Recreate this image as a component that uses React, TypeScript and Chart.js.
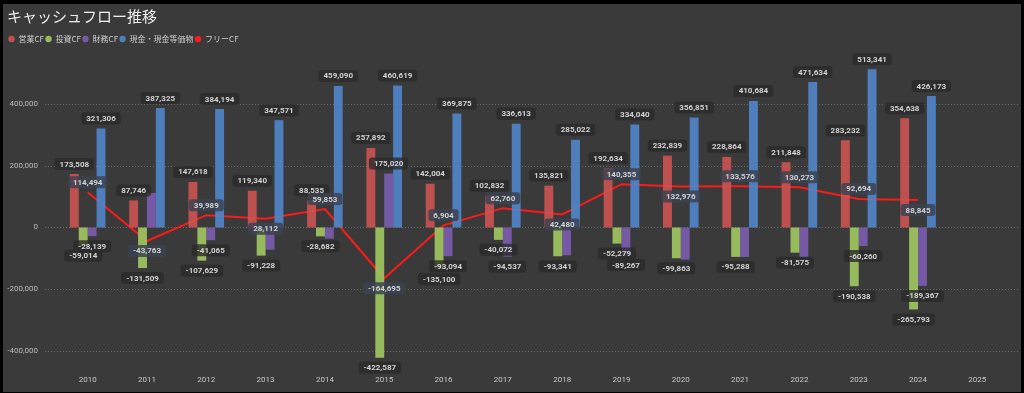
import React, { useEffect, useRef } from 'react';
import { Chart, registerables } from 'chart.js';

Chart.register(...registerables);

const years = ['2010', '2011', '2012', '2013', '2014', '2015', '2016', '2017', '2018', '2019', '2020', '2021', '2022', '2023', '2024', '2025'];
const operatingCF = [173508, 87746, 147618, 119340, 88535, 257892, 142004, 102832, 135821, 192634, 232839, 228864, 211848, 283232, 354638, null];
const investingCF = [-59014, -131509, -107629, -91228, -28682, -422587, -135100, -40072, -93341, -52279, -99863, -95288, -81575, -190538, -265793, null];
const financingCF = [-28139, 112000, -41065, -72000, -36000, 175020, -93094, -94537, -90000, -89267, -104000, -95500, -95500, -60260, -189367, null];
const cashEquivalents = [321306, 387325, 384194, 347571, 459090, 460619, 369875, 336613, 285022, 334040, 356851, 410684, 471634, 513341, 426173, null];
const freeCF = [114494, -43763, 39989, 28112, 59853, -164695, 6904, 62760, 42480, 140355, 132976, 133576, 130273, 92694, 88845, null];
const yTicks = [-400000, -200000, 0, 200000, 400000];
const financingLabelShown = [true, false, true, false, false, true, true, true, false, true, false, false, false, true, true, false];
const freeLabelBelow = [false, true, false, true, false, true, false, false, true, false, true, false, false, false, true, false];

const Y_MIN = -446000;
const Y_MAX = 566000;

const fmt = (v: number) => v.toLocaleString('en-US');

const gridPlugin = {
  id: 'dottedGrid',
  beforeDatasetsDraw(chart: any) {
    const { ctx, chartArea, scales } = chart;
    const y = scales.y;
    ctx.save();
    ctx.strokeStyle = 'rgba(255,255,255,0.25)';
    ctx.lineWidth = 1;
    ctx.setLineDash([1, 2]);
    yTicks.forEach((v) => {
      const py = Math.round(y.getPixelForValue(v)) + 0.5;
      ctx.beginPath();
      ctx.moveTo(chartArea.left - 13, py);
      ctx.lineTo(chartArea.right + 11, py);
      ctx.stroke();
    });
    ctx.restore();
  },
};

const labelPlugin = {
  id: 'valueLabels',
  afterDatasetsDraw(chart: any) {
    const ctx = chart.ctx;
    ctx.save();
    ctx.font = 'bold 8px Roboto, "DejaVu Sans", sans-serif';
    ctx.textAlign = 'center';
    ctx.textBaseline = 'middle';
    [0, 1, 2, 3, 4].forEach((di) => {
      const ds = chart.data.datasets[di];
      const meta = chart.getDatasetMeta(di);
      if (!meta || meta.hidden) return;
      meta.data.forEach((el: any, i: number) => {
        const v = ds.data[i];
        if (v == null) return;
        if (di === 2 && !financingLabelShown[i]) return;
        const isLine = meta.type === 'line';
        const below = isLine ? freeLabelBelow[i] : v < 0;
        const cy = below ? el.y + 10 : el.y - 10;
        const text = fmt(v);
        const w = ctx.measureText(text).width + 10;
        const h = 12;
        ctx.fillStyle = isLine ? 'rgba(60,67,80,0.85)' : 'rgba(42,42,42,0.8)';
        ctx.beginPath();
        ctx.roundRect(el.x - w / 2, cy - h / 2, w, h, 3);
        ctx.fill();
        ctx.fillStyle = '#d2d2d2';
        ctx.fillText(text, el.x, cy + 0.5);
      });
    });
    ctx.restore();
  },
};

export default function App() {
  const canvasRef = useRef<HTMLCanvasElement | null>(null);

  useEffect(() => {
    document.body.style.margin = '0';
    const canvas = canvasRef.current;
    if (!canvas) return;
    const tickFont = { family: 'Roboto, "DejaVu Sans", sans-serif', size: 8 };
    const jpFont = '"Noto Sans CJK JP", "Noto Sans", sans-serif';
    const chart = new Chart(canvas, {
      type: 'bar',
      data: {
        labels: years,
        datasets: [
          { label: '営業CF', data: operatingCF, backgroundColor: 'rgba(205,84,82,0.9)', borderWidth: 0, order: 0 },
          { label: '投資CF', data: investingCF, backgroundColor: 'rgba(160,198,96,0.92)', borderWidth: 0, order: 0 },
          { label: '財務CF', data: financingCF, backgroundColor: 'rgba(124,92,174,0.92)', borderWidth: 0, order: 0 },
          { label: '現金・現金等価物', data: cashEquivalents, backgroundColor: 'rgba(80,134,200,0.92)', borderWidth: 0, order: 0 },
          {
            type: 'line',
            label: 'フリーCF',
            data: freeCF,
            borderColor: '#ff1a1a',
            backgroundColor: '#ff1a1a',
            borderWidth: 2,
            pointRadius: 0,
            pointHoverRadius: 0,
            tension: 0,
            fill: false,
            order: 1,
          } as any,
        ],
      },
      options: {
        animation: false,
        responsive: false,
        devicePixelRatio: 1,
        layout: { padding: { left: 4, right: 14, top: 0, bottom: 0 } },
        datasets: { bar: { categoryPercentage: 0.6, barPercentage: 1.0 } },
        plugins: {
          title: {
            display: true,
            text: 'キャッシュフロー推移',
            align: 'start',
            color: '#eeeeee',
            font: { family: jpFont, size: 15, weight: 'normal' },
            padding: { top: 3, bottom: 8.5 },
          },
          legend: {
            display: true,
            position: 'top',
            align: 'start',
            labels: {
              usePointStyle: true,
              pointStyle: 'circle',
              boxWidth: 6,
              boxHeight: 4.5,
              padding: 1.5,
              color: '#cccccc',
              font: { family: jpFont, size: 8 },
              generateLabels: (c: any) =>
                Chart.defaults.plugins.legend.labels.generateLabels(c).map((l: any) => ({
                  ...l,
                  lineWidth: 0,
                  strokeStyle: 'rgba(0,0,0,0)',
                })),
            },
          },
          tooltip: { enabled: false },
        },
        scales: {
          x: {
            grid: { display: false, drawTicks: false },
            border: { display: false },
            ticks: { color: '#c8c8c8', font: tickFont, padding: 10, maxRotation: 0, autoSkip: false },
            afterFit: (s: any) => {
              s.height = 27;
            },
          },
          y: {
            min: Y_MIN,
            max: Y_MAX,
            grid: { display: false, drawTicks: false },
            border: { display: false },
            afterBuildTicks: (s: any) => {
              s.ticks = yTicks.map((v) => ({ value: v }));
            },
            ticks: {
              color: '#bbbbbb',
              font: tickFont,
              padding: 20,
              callback: (v: any) => fmt(Number(v)),
            },
            afterFit: (s: any) => {
              s.width = 51;
            },
          },
        },
      },
      plugins: [gridPlugin, labelPlugin],
    } as any);
    return () => chart.destroy();
  }, []);

  return (
    <div style={{ position: 'relative', width: 1024, height: 393, background: '#000', overflow: 'hidden' }}>
      <div style={{ position: 'absolute', left: 3, top: 4, width: 1018, height: 388, background: '#3a3a3a' }}>
        <canvas ref={canvasRef} width={1018} height={388} style={{ display: 'block', width: 1018, height: 388 }} />
      </div>
    </div>
  );
}
